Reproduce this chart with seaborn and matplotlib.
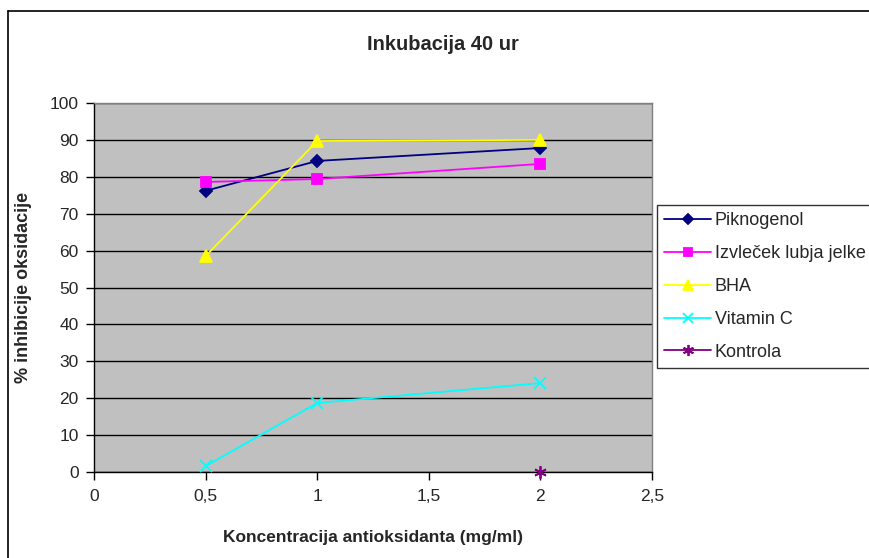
import matplotlib
matplotlib.use("Agg")
import matplotlib.pyplot as plt
import seaborn as sns
import pandas as pd
from matplotlib.ticker import FuncFormatter, MultipleLocator

# data
koncentracija = [0.5, 1, 2]
piknogenol = [76.2, 84.3, 87.8]
izvlecek = [78.6, 79.4, 83.5]
bha = [58.5, 89.7, 90.0]
vitamin_c = [1.6, 18.7, 24.1]
kontrola_x = [2]
kontrola = [0]

series = ["Piknogenol", "Izvleček lubja jelke", "BHA", "Vitamin C", "Kontrola"]
colors = ["#000080", "#FF00FF", "#FFFF00", "#00FFFF", "#800080"]
markers = ["D", "s", "^", "x", (6, 2, 0)]
msizes = [6, 7, 8, 8, 9]

rows = []
for name, xs, ys in [("Piknogenol", koncentracija, piknogenol),
                     ("Izvleček lubja jelke", koncentracija, izvlecek),
                     ("BHA", koncentracija, bha),
                     ("Vitamin C", koncentracija, vitamin_c),
                     ("Kontrola", kontrola_x, kontrola)]:
    for x, y in zip(xs, ys):
        rows.append({"serija": name, "x": x, "y": y})
df = pd.DataFrame(rows)

sns.set_style("white")
plt.rcParams['font.family'] = ['Liberation Sans', 'DejaVu Sans']

fig = plt.figure(figsize=(8.69, 5.58), dpi=100)
ax = fig.add_axes([94 / 869, 1 - 472 / 558, (652 - 94) / 869, (472 - 103) / 558])
ax.set_facecolor("#C0C0C0")

handles = []
for name, c, m, ms in zip(series, colors, markers, msizes):
    sub = df[df["serija"] == name]
    sns.lineplot(data=sub, x="x", y="y", ax=ax, color=c, linewidth=1.3,
                 marker=m, markersize=ms, markeredgecolor=c, markerfacecolor=c,
                 markeredgewidth=1.3, legend=False, clip_on=False, zorder=3)
    handles.append(plt.Line2D([], [], color=c, marker=m, markersize=ms - 1,
                              markeredgecolor=c, markerfacecolor=c,
                              linewidth=1.3, markeredgewidth=1.3, label=name))

ax.set_xlim(0, 2.5)
ax.set_ylim(0, 100)
ax.xaxis.set_major_locator(MultipleLocator(0.5))
ax.yaxis.set_major_locator(MultipleLocator(10))
ax.xaxis.set_major_formatter(FuncFormatter(lambda v, p: f"{v:g}".replace(".", ",")))
ax.yaxis.grid(True, color="black", linewidth=1)
ax.set_axisbelow(True)
for s in ax.spines.values():
    s.set_color("#808080")
    s.set_linewidth(1)
ax.spines["left"].set_color("black")
ax.spines["bottom"].set_color("black")
ax.tick_params(axis="both", direction="out", length=6, width=1, color="black",
               labelsize=12.5, bottom=True, left=True, pad=5)
ax.tick_params(axis="x", pad=6)

ax.set_xlabel("Koncentracija antioksidanta (mg/ml)", fontsize=12.5, fontweight="bold", labelpad=19)
ax.set_ylabel("% inhibicije oksidacije", fontsize=13, fontweight="bold", labelpad=13)
fig.text(443 / 869, 1 - 44 / 558, "Inkubacija 40 ur",
         ha="center", va="center", fontsize=14.5, fontweight="bold")

leg = fig.legend(handles=handles, loc="upper left", bbox_to_anchor=(657 / 869, 1 - 205 / 558),
                 frameon=True, fancybox=False, edgecolor="black", fontsize=13,
                 handlelength=2.6, labelspacing=0.88, borderpad=0.4, handletextpad=0.2,
                 borderaxespad=0)
leg.get_frame().set_linewidth(1)

# outer chart frame (left and top edges visible)
fig.add_artist(plt.Line2D([8 / 869, 8 / 869], [0, 1 - 11 / 558], color="black", linewidth=1.2,
                          transform=fig.transFigure))
fig.add_artist(plt.Line2D([8 / 869, 1], [1 - 11 / 558, 1 - 11 / 558], color="black", linewidth=1.2,
                          transform=fig.transFigure))

fig.savefig("out.png", dpi=100)
